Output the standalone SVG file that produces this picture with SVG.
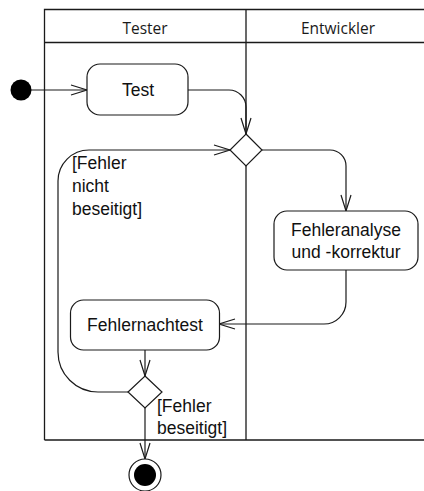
<svg xmlns="http://www.w3.org/2000/svg" width="424" height="491" viewBox="0 0 424 491">
  <style>
    .lane { fill: none; stroke: #1a1a1a; stroke-width: 1.3; }
    .lane-title { font-family: "Open Sans", "Liberation Sans", sans-serif; font-size: 15.5px; fill: #1a1a1a; text-anchor: middle; }
    .action { fill: #ffffff; stroke: #1a1a1a; stroke-width: 1.2; }
    .label { font-family: "Liberation Sans", Arial, sans-serif; font-size: 17.5px; fill: #111111; }
    .center { text-anchor: middle; }
    .flow { fill: none; stroke: #1a1a1a; stroke-width: 1.2; }
    .decision { fill: #ffffff; stroke: #1a1a1a; stroke-width: 1.2; }
  </style>
  <defs>
    <marker id="open-arrow" markerUnits="userSpaceOnUse" markerWidth="18" markerHeight="12" viewBox="0 0 18 12" refX="17" refY="6" orient="auto" overflow="visible">
      <path d="M1,1 L17,6 L1,11" fill="none" stroke="#1a1a1a" stroke-width="1.2"/>
    </marker>
  </defs>

  <rect width="424" height="491" fill="#ffffff"/>

  <!-- swimlane frame -->
  <g id="swimlanes">
    <path class="lane" d="M44.5,440 V9.5 H430 M44.5,42.5 H430 M246,9.5 V440 M44.5,440 H430"/>
    <text class="lane-title" x="145" y="34">Tester</text>
    <text class="lane-title" x="338" y="34">Entwickler</text>
  </g>

  <!-- connectors -->
  <g id="connectors">
    <path class="flow" d="M31,90 H87" marker-end="url(#open-arrow)"/>
    <path class="flow" d="M188,90 H229 A17,17 0 0 1 246,107 V134" marker-end="url(#open-arrow)"/>
    <path class="flow" d="M262,150 H330 A16,16 0 0 1 346,166 V211" marker-end="url(#open-arrow)"/>
    <path class="flow" d="M346,270 V302 A22,22 0 0 1 324,324 H219" marker-end="url(#open-arrow)"/>
    <path class="flow" d="M145,350 V376" marker-end="url(#open-arrow)"/>
    <path class="flow" d="M128,392 H98 A40,40 0 0 1 58,352 V181 A31,31 0 0 1 89,150 H230" marker-end="url(#open-arrow)"/>
    <path class="flow" d="M145,408 V459" marker-end="url(#open-arrow)"/>
  </g>

  <!-- nodes -->
  <g id="start">
    <circle cx="21" cy="90" r="10.5" fill="#000000"/>
  </g>

  <g id="test">
    <rect class="action" x="87" y="64" width="101" height="51" rx="13"/>
    <text class="label center" x="138" y="96">Test</text>
  </g>

  <g id="merge">
    <path class="decision" d="M246,134 L262,150 L246,166 L230,150 Z"/>
  </g>

  <g id="fehleranalyse">
    <rect class="action" x="274" y="211" width="144" height="59" rx="13"/>
    <text class="label center" x="346" y="236">Fehleranalyse</text>
    <text class="label center" x="346" y="258">und -korrektur</text>
  </g>

  <g id="fehlernachtest">
    <rect class="action" x="70.5" y="300" width="149" height="50" rx="13"/>
    <text class="label center" x="145" y="331">Fehlernachtest</text>
  </g>

  <g id="decision">
    <path class="decision" d="M145,376 L162,392 L145,408 L128,392 Z"/>
  </g>

  <g id="end">
    <circle cx="145" cy="475" r="16" fill="#ffffff" stroke="#1a1a1a" stroke-width="1.2"/>
    <circle cx="145" cy="475" r="11" fill="#000000"/>
  </g>

  <!-- guard labels -->
  <g id="guard-retry">
    <text class="label" x="72" y="169">[Fehler</text>
    <text class="label" x="72" y="192">nicht</text>
    <text class="label" x="72" y="215">beseitigt]</text>
  </g>
  <g id="guard-done">
    <text class="label" x="157" y="412">[Fehler</text>
    <text class="label" x="157" y="434">beseitigt]</text>
  </g>
</svg>
